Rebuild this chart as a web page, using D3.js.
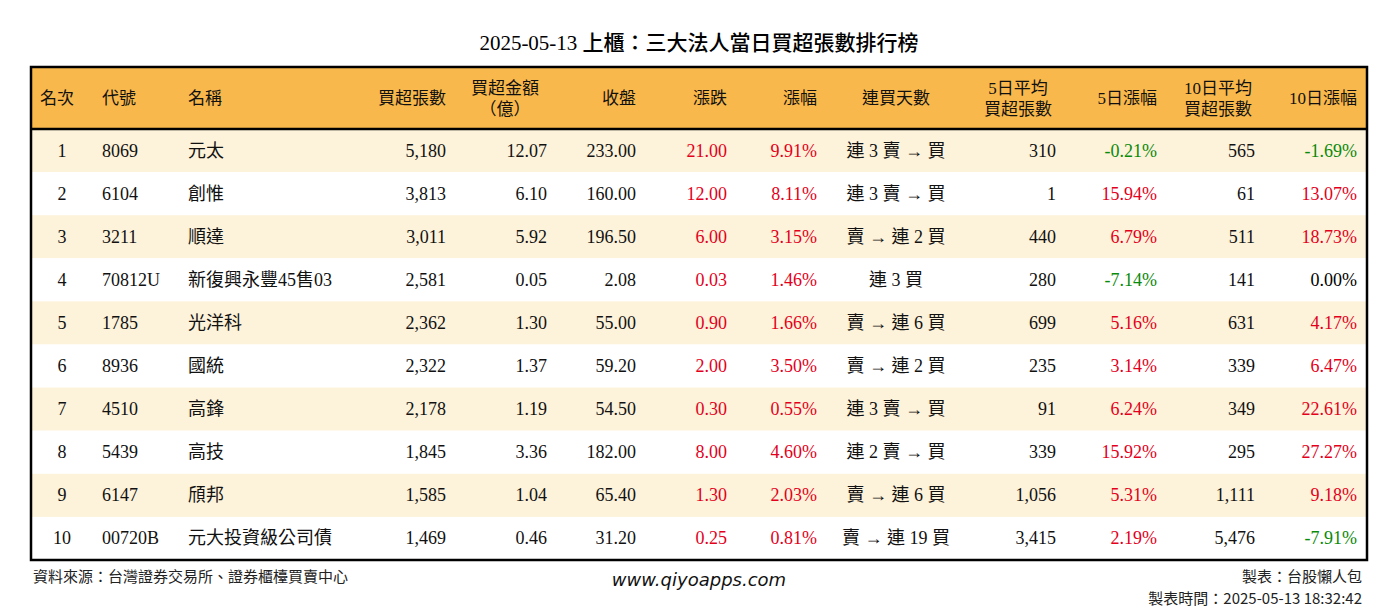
<!DOCTYPE html><html><head><meta charset="utf-8"><script src="https://cdn.jsdelivr.net/npm/d3@7"></script>
<style>body{margin:0;background:#fff}</style></head><body><svg id="c" width="1398" height="612"></svg><script>
const ranks=[1,2,3,4,5,6,7,8,9,10];
const codes=["8069","6104","3211","70812U","1785","8936","4510","5439","6147","00720B"];
const names=["元太","創惟","順達","新復興永豐45售03","光洋科","國統","高鋒","高技","頎邦","元大投資級公司債"];
const buyVol=[5180,3813,3011,2581,2362,2322,2178,1845,1585,1469];
const buyAmt=[12.07,6.10,5.92,0.05,1.30,1.37,1.19,3.36,1.04,0.46];
const close=[233.00,160.00,196.50,2.08,55.00,59.20,54.50,182.00,65.40,31.20];
const chg=[21.00,12.00,6.00,0.03,0.90,2.00,0.30,8.00,1.30,0.25];
const chgPct=[9.91,8.11,3.15,1.46,1.66,3.50,0.55,4.60,2.03,0.81];
const streak=["連 3 賣 → 買","連 3 賣 → 買","賣 → 連 2 買","連 3 買","賣 → 連 6 買","賣 → 連 2 買","連 3 賣 → 買","連 2 賣 → 買","賣 → 連 6 買","賣 → 連 19 買"];
const avg5=[310,1,440,280,699,235,91,339,1056,3415];
const pct5=[-0.21,15.94,6.79,-7.14,5.16,3.14,6.24,15.92,5.31,2.19];
const avg10=[565,61,511,141,631,339,349,295,1111,5476];
const pct10=[-1.69,13.07,18.73,0.00,4.17,6.47,22.61,27.27,9.18,-7.91];

const svg=d3.select("#c");
const serif="'Liberation Serif','DejaVu Serif',serif";
const cjk="'Noto Sans CJK TC',sans-serif";
const L=31,R=1367,HT=67,HB=129,B=560;
const y=d3.scaleBand().domain(ranks).range([HB,B]);
svg.append("text").attr("x",699).attr("y",50).attr("text-anchor","middle").attr("font-family",serif+","+cjk).attr("font-size",21).attr("font-weight",500).text("2025-05-13 上櫃：三大法人當日買超張數排行榜");
svg.append("rect").attr("x",L).attr("y",HT).attr("width",R-L).attr("height",HB-HT).attr("fill","#f9b84b");
ranks.forEach(r=>svg.append("rect").attr("x",L).attr("y",y(r)).attr("width",R-L).attr("height",y.bandwidth()).attr("fill",r%2?"#fdf2da":"#fff"));
svg.append("rect").attr("x",L).attr("y",HT).attr("width",R-L).attr("height",B-HT).attr("fill","none").attr("stroke","#000").attr("stroke-width",2.5);
svg.append("line").attr("x1",L).attr("x2",R).attr("y1",HB).attr("y2",HB).attr("stroke","#000").attr("stroke-width",2.5);
const fmt=d3.format(",");const f2=v=>d3.format(".2f")(v).replace("−","-");
const col=v=>v>0?"#e3001b":v<0?"#0a8a0a":"#000";
const cols=[
 {h:["名次"],hx:40,ha:"start",x:62,a:"middle",v:i=>ranks[i]},
 {h:["代號"],hx:102,ha:"start",x:102,a:"start",v:i=>codes[i]},
 {h:["名稱"],hx:188,ha:"start",x:188,a:"start",v:i=>names[i]},
 {h:["買超張數"],hx:446,ha:"end",x:446,a:"end",v:i=>fmt(buyVol[i])},
 {h:["買超金額","（億）"],hx:505,ha:"middle",x:547,a:"end",v:i=>f2(buyAmt[i])},
 {h:["收盤"],hx:636,ha:"end",x:636,a:"end",v:i=>f2(close[i])},
 {h:["漲跌"],hx:727,ha:"end",x:727,a:"end",v:i=>f2(chg[i]),c:i=>col(chg[i])},
 {h:["漲幅"],hx:817,ha:"end",x:817,a:"end",v:i=>f2(chgPct[i])+"%",c:i=>col(chgPct[i])},
 {h:["連買天數"],hx:896,ha:"middle",x:896,a:"middle",v:i=>streak[i]},
 {h:["5日平均","買超張數"],hx:1018,ha:"middle",x:1056,a:"end",v:i=>fmt(avg5[i])},
 {h:["5日漲幅"],hx:1157,ha:"end",x:1157,a:"end",v:i=>f2(pct5[i])+"%",c:i=>col(pct5[i])},
 {h:["10日平均","買超張數"],hx:1218,ha:"middle",x:1255,a:"end",v:i=>fmt(avg10[i])},
 {h:["10日漲幅"],hx:1357,ha:"end",x:1357,a:"end",v:i=>f2(pct10[i])+"%",c:i=>col(pct10[i])}];
cols.forEach(c=>{
 const ys=c.h.length==1?[104]:[94,115];
 c.h.forEach((t,k)=>svg.append("text").attr("x",c.hx).attr("y",ys[k]).attr("text-anchor",c.ha).attr("font-family",serif+","+cjk).attr("font-size",17).attr("fill","#111").text(t));
 ranks.forEach((r,i)=>svg.append("text").attr("x",c.x).attr("y",y(r)+y.bandwidth()/2+6).attr("text-anchor",c.a).attr("font-family",serif+","+cjk).attr("font-size",18).attr("fill",c.c?c.c(i):"#111").text(c.v(i)));
});
svg.append("text").attr("x",33).attr("y",582).attr("font-family",cjk).attr("font-size",15).attr("fill","#222").text("資料來源：台灣證券交易所、證券櫃檯買賣中心");
svg.append("text").attr("x",699).attr("y",586).attr("text-anchor","middle").attr("font-family","'DejaVu Sans',sans-serif").attr("font-style","italic").attr("font-size",18).attr("fill","#111").text("www.qiyoapps.com");
svg.append("text").attr("x",1362).attr("y",582).attr("text-anchor","end").attr("font-family",cjk).attr("font-size",15).attr("fill","#222").text("製表：台股懶人包");
svg.append("text").attr("x",1362).attr("y",604).attr("text-anchor","end").attr("font-family",cjk).attr("font-size",15).attr("fill","#222").text("製表時間：2025-05-13 18:32:42");
</script></body></html>
